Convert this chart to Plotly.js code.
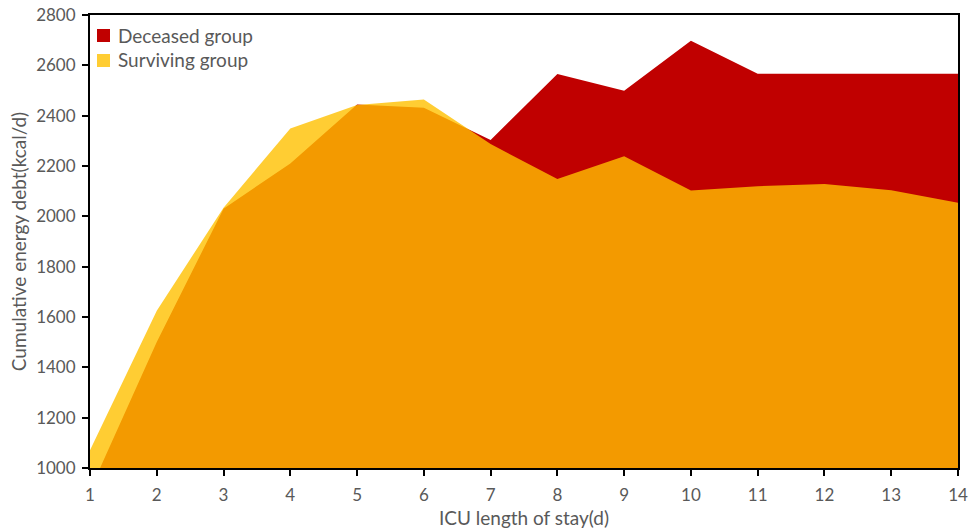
<!DOCTYPE html>
<html>
<head>
<meta charset="utf-8">
<script src="https://cdn.plot.ly/plotly-3.0.1.min.js"></script>
<style>html,body{margin:0;padding:0;background:#fff;}#chart{width:971px;height:531px;}</style>
</head>
<body>
<div id="chart"></div>
<script>
var days = [1, 2, 3, 4, 5, 6, 7, 8, 9, 10, 11, 12, 13, 14];
var deceased = [911, 1501, 2030, 2210, 2444, 2431, 2303, 2566, 2499, 2698, 2567, 2567, 2567, 2567];
var surviving = [1071, 1625, 2034, 2349, 2442, 2464, 2287, 2148, 2239, 2103, 2120, 2128, 2104, 2054];
var seriesNames = ['Deceased group', 'Surviving group'];
var yTicks = [1000, 1200, 1400, 1600, 1800, 2000, 2200, 2400, 2600, 2800];

var redCol = '#C00000';
var yelCol = 'rgba(255,192,0,0.8)';
var textCol = '#595959';
var fontFam = 'Lato, "Liberation Sans", sans-serif';

var traces = [
  {x: days, y: deceased, name: seriesNames[0], type: 'scatter', mode: 'lines',
   fill: 'tozeroy', fillcolor: redCol, line: {width: 0, color: redCol}, showlegend: false, hoverinfo: 'x+y+name'},
  {x: days, y: surviving, name: seriesNames[1], type: 'scatter', mode: 'lines',
   fill: 'tozeroy', fillcolor: yelCol, line: {width: 0, color: yelCol}, showlegend: false, hoverinfo: 'x+y+name'}
];

var L = 90, R = 958, T = 15, B = 468;
function px(x){ return (x - L) / (R - L); }
function py(y){ return (B - y) / (B - T); }

var layout = {
  width: 971, height: 531,
  margin: {l: L, r: 971 - R, t: T, b: 531 - B},
  paper_bgcolor: '#ffffff', plot_bgcolor: '#ffffff',
  font: {family: fontFam, size: 17, color: textCol},
  showlegend: false,
  xaxis: {
    range: [1, 14], tickvals: days, ticktext: days.map(String),
    showgrid: false, zeroline: false,
    showline: true, linecolor: '#000', linewidth: 2, mirror: true,
    ticks: 'outside', ticklen: 6, tickwidth: 2, tickcolor: '#000',
    ticklabelstandoff: 5,
    tickfont: {family: fontFam, size: 17, color: textCol},
    title: {text: 'ICU length of stay(d)', font: {family: fontFam, size: 19, color: textCol}, standoff: 7}
  },
  yaxis: {
    range: [1000, 2800], tickvals: yTicks,
    showgrid: false, zeroline: false,
    showline: true, linecolor: '#000', linewidth: 2, mirror: true,
    ticks: 'outside', ticklen: 6, tickwidth: 2, tickcolor: '#000',
    ticklabelstandoff: 3,
    tickfont: {family: fontFam, size: 17, color: textCol},
    title: {text: 'Cumulative energy debt(kcal/d)', font: {family: fontFam, size: 19, color: textCol}, standoff: 4}
  },
  shapes: [
    {type: 'rect', xref: 'paper', yref: 'paper', x0: px(97), x1: px(110), y0: py(42), y1: py(29), fillcolor: redCol, line: {width: 0}},
    {type: 'rect', xref: 'paper', yref: 'paper', x0: px(97), x1: px(110), y0: py(67), y1: py(54), fillcolor: yelCol, line: {width: 0}}
  ],
  annotations: [
    {xref: 'paper', yref: 'paper', x: px(116), y: py(35), xanchor: 'left', yanchor: 'middle', showarrow: false,
     text: seriesNames[0], font: {family: fontFam, size: 19, color: textCol}},
    {xref: 'paper', yref: 'paper', x: px(116), y: py(60), xanchor: 'left', yanchor: 'middle', showarrow: false,
     text: seriesNames[1], font: {family: fontFam, size: 19, color: textCol}}
  ]
};

Plotly.newPlot('chart', traces, layout, {displayModeBar: false, staticPlot: true});
</script>
</body>
</html>
